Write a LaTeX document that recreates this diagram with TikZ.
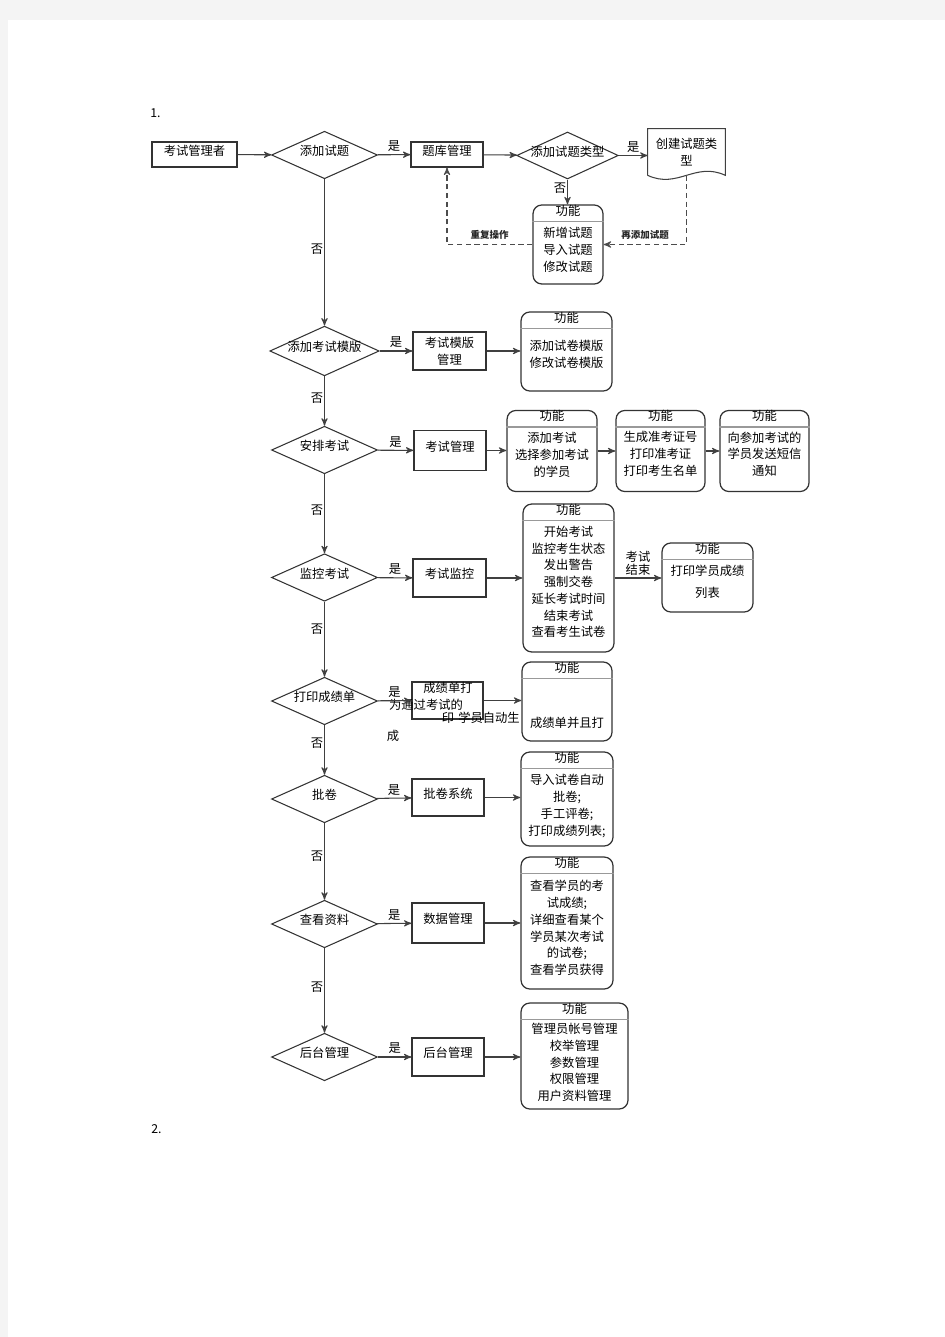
\documentclass[tikz,border=0pt]{standalone}
\usepackage{fontspec}
\setmainfont{Noto Sans CJK SC}
\usepackage{tikz}
\usetikzlibrary{shapes,arrows}
\definecolor{pagegray}{RGB}{244,244,244}
\newcommand{\zihao}{\fontsize{7}{9.5}\selectfont}
\newcommand{\xiaozi}{\fontsize{5.4}{6}\selectfont\bfseries}

\begin{document}
\begin{tikzpicture}[x=0.02cm, y=-0.02cm,
    every node/.style={font=\zihao},
    xian/.style={draw=black!75, line width=0.6pt},
    arr/.style={xian, ->, >=stealth'},
    dasharr/.style={draw=black!70, line width=0.6pt, densely dashed, ->, >=stealth'},
    box/.style={draw=black!80, line width=0.6pt, rectangle, inner sep=0, minimum width=1.44cm, minimum height=0.76cm},
    oneline/.style={text height=5pt, text depth=4.2pt},
    pan/.style={diamond, draw=black!80, line width=0.6pt, aspect=2.2, inner sep=0, minimum width=2.12cm, minimum height=0.95cm, oneline},
    func/.style={draw=black!80, line width=0.7pt, rounded corners=5pt},
    gnhead/.style={inner sep=0},
    fenge/.style={draw=black!40, line width=0.8pt},
    txt/.style={align=center, inner sep=0},
    shi/.style={above, inner sep=1.5pt},
    fou/.style={left, inner sep=0.5pt},
    xiao/.style={font=\xiaozi, text=black!85, inner sep=1pt, above=1.5pt}]
  % page
  \useasboundingbox (0,0) rectangle (945,1337);
  \fill[pagegray] (0,0) rectangle (945,1337);
  \fill[white] (8,20) rectangle (945,1337);
  %\draw[help lines] (0,0) grid (945,1337);

  \node[anchor=west, inner sep=0] (yi) at (150,113) {1.};
  \node[anchor=west, inner sep=0] (er) at (151,1129) {2.};

  % row 1
  \node[box, oneline, minimum width=1.7cm, minimum height=0.5cm] (zhe) at (194.5,154.5) {考试管理者};
  \node[pan] (d1) at (324.5,155) {添加试题};
  \node[box, oneline, minimum height=0.5cm] (tiku) at (447,154.5) {题库管理};
  \node[pan, text height=4pt, text depth=3.2pt, minimum width=2.02cm, minimum height=0.94cm] (d1b) at (567.5,155.5) {添加试题类型};
  \node[inner sep=0, align=center, minimum width=1.54cm, minimum height=0.92cm] (doc) at (686.5,152) {创建试题类\\型};
  \draw[xian] (doc.south west) -- (doc.north west) -- (doc.north east) -- (doc.south east)
    .. controls +(-30,-14) and +(30,14) .. (doc.south west);
  \node[func, minimum width=1.4cm, minimum height=1.58cm] (f1) at (568,244.5) {};
  \node[txt] (f1t) at (568,250) {新增试题\\导入试题\\修改试题};

  \draw[arr] (zhe) -- (d1);
  \draw[arr] (d1) -- (tiku) node[shi, midway] {是};
  \draw[arr] (tiku) -- (d1b);
  \draw[arr] (d1b.east) -- (d1b.east -| doc.west) node[shi, midway] {是};
  \draw[arr] (d1b.south) -- (d1b.south |- f1.north) node[fou, pos=0.35] {否};
  \draw[dasharr] (f1.west) -| (tiku.south) node[xiao, pos=0.25] {重复操作};
  \draw[dasharr] (doc.south) |- (f1.east) node[xiao, pos=0.75] {再添加试题};

  % row 2
  \node[pan] (d2) at (324.5,351) {添加考试模版};
  \node[box, align=center, minimum width=1.46cm] (muban) at (449.5,351) {考试模版\\管理};
  \node[func, minimum width=1.82cm, minimum height=1.58cm] (f2) at (566.5,351.5) {};
  \node[txt] (f2t) at (566.5,354) {添加试卷模版\\修改试卷模版};
  \draw[arr] (d2) -- (muban) node[shi, midway] {是};
  \draw[arr] (muban.east) -- (muban.east -| f2.west);

  % row 3
  \node[pan] (d3) at (324.5,450) {安排考试};
  \node[box, oneline, minimum height=0.8cm] (kaoshi) at (450,450.5) {考试管理};
  \node[func, minimum width=1.8cm, minimum height=1.62cm] (f3) at (552,451) {};
  \node[func, minimum width=1.78cm, minimum height=1.62cm] (f4) at (660.5,451) {};
  \node[func, minimum width=1.78cm, minimum height=1.62cm] (f5) at (764.5,451) {};
  \node[txt] (f3t) at (552,455) {添加考试\\选择参加考试\\的学员};
  \node[txt] (f4t) at (660.5,454) {生成准考证号\\打印准考证\\打印考生名单};
  \node[txt] (f5t) at (764.5,454) {向参加考试的\\学员发送短信\\通知};
  \draw[arr] (d3) -- (kaoshi) node[shi, midway] {是};
  \draw[arr] (kaoshi.east) -- (kaoshi.east -| f3.west);
  \draw[arr] (f3) -- (f4);
  \draw[arr] (f4) -- (f5);

  % row 4
  \node[pan] (d4) at (324.5,577.5) {监控考试};
  \node[box, oneline, minimum width=1.46cm] (jiankong) at (449.5,578) {考试监控};
  \node[func, minimum width=1.82cm, minimum height=2.96cm] (f6) at (568.5,578) {};
  \node[txt] (f6t) at (568.5,582) {开始考试\\监控考生状态\\发出警告\\强制交卷\\延长考试时间\\结束考试\\查看考生试卷};
  \node[func, minimum width=1.82cm, minimum height=1.38cm] (f7) at (707.5,577.5) {};
  \node[txt] (f7t) at (707.5,582) {打印学员成绩\\[3pt]列表};
  \draw[arr] (d4) -- (jiankong) node[shi, midway] {是};
  \draw[arr] (jiankong.east) -- (jiankong.east -| f6.west);
  \draw[arr] (f6.east) -- (f6.east -| f7.west)
    node[midway, above, align=center, inner sep=1pt, font=\fontsize{7}{7.6}\selectfont] {考试\\结束};

  % row 5
  \node[pan] (d5) at (324.5,701) {打印成绩单};
  \node[box, minimum width=1.42cm, minimum height=0.74cm] (dayin) at (447.5,700.5) {};
  \node[inner sep=0] (dayin1) at (448,688) {成绩单打};
  \node[inner sep=0] (dayin2) at (448,718) {印};
  \node[inner sep=0] (tongguo1) at (426,705) {为通过考试的};
  \node[inner sep=0] (tongguo2) at (489,718) {学员自动生};
  \node[inner sep=0] (tongguo3) at (393,736) {成};
  \node[func, minimum width=1.8cm, minimum height=1.58cm] (f8) at (567,701.5) {};
  \node[txt] (f8t) at (567,723) {成绩单并且打};
  \draw[arr] (d5) -- (dayin) node[shi, midway] {是};
  \draw[arr] (dayin.east) -- (dayin.east -| f8.west);

  % row 6
  \node[pan] (d6) at (324.5,799) {批卷};
  \node[box, oneline, minimum height=0.74cm] (pijuan) at (448,797.5) {批卷系统};
  \node[func, minimum width=1.84cm, minimum height=1.88cm] (f9) at (567,799) {};
  \node[txt] (f9t) at (567,806) {导入试卷自动\\批卷;\\手工评卷;\\打印成绩列表;};
  \draw[arr] (d6) -- (pijuan) node[shi, midway] {是};
  \draw[arr] (pijuan.east) -- (pijuan.east -| f9.west);

  % row 7
  \node[pan] (d7) at (324.5,924) {查看资料};
  \node[box, oneline, minimum height=0.8cm] (shuju) at (448,923) {数据管理};
  \node[func, minimum width=1.84cm, minimum height=2.64cm] (f10) at (567,923) {};
  \node[txt] (f10t) at (567,928) {查看学员的考\\试成绩;\\详细查看某个\\学员某次考试\\的试卷;\\查看学员获得};
  \draw[arr] (d7) -- (shuju) node[shi, midway] {是};
  \draw[arr] (shuju.east) -- (shuju.east -| f10.west);

  % row 8
  \node[pan] (d8) at (324.5,1057) {后台管理};
  \node[box, oneline] (houtai) at (448,1057) {后台管理};
  \node[func, minimum width=2.14cm, minimum height=2.12cm] (f11) at (574.5,1056) {};
  \node[txt] (f11t) at (574.5,1062.5) {管理员帐号管理\\校举管理\\参数管理\\权限管理\\用户资料管理};
  \draw[arr] (d8) -- (houtai) node[shi, midway] {是};
  \draw[arr] (houtai.east) -- (houtai.east -| f11.west);

  % main column
  \draw[arr] (d1) -- (d2) node[fou, pos=0.48] {否};
  \draw[arr] (d2) -- (d3) node[fou, pos=0.44] {否};
  \draw[arr] (d3) -- (d4) node[fou, pos=0.45] {否};
  \draw[arr] (d4) -- (d5) node[fou, pos=0.36] {否};
  \draw[arr] (d5) -- (d6) node[fou, pos=0.37] {否};
  \draw[arr] (d6) -- (d7) node[fou, pos=0.43] {否};
  \draw[arr] (d7) -- (d8) node[fou, pos=0.46] {否};

  % headers of the function boxes
  \foreach \i in {1,...,11} {
    \node[gnhead] (f\i-gn) at ([yshift=-0.12cm]f\i.north) {功能};
    \draw[fenge] ([yshift=-0.34cm]f\i.north west) -- ([yshift=-0.34cm]f\i.north east);
  }
\end{tikzpicture}
\end{document}
